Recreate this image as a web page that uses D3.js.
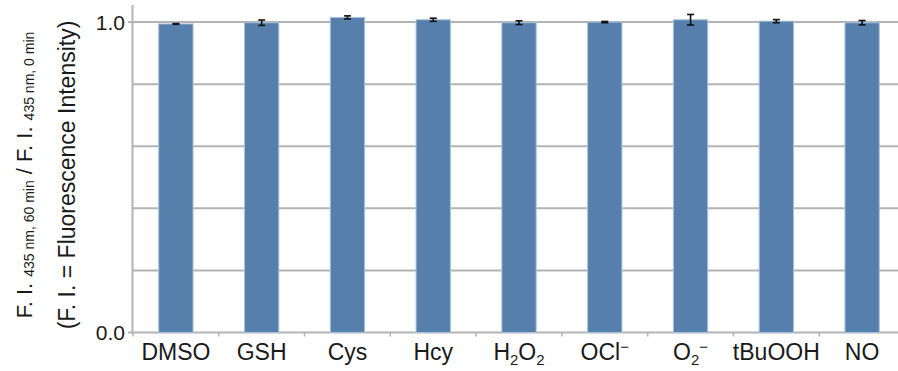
<!DOCTYPE html>
<html><head><meta charset="utf-8">
<script src="https://cdn.jsdelivr.net/npm/d3@7"></script>
<style>
html,body{margin:0;padding:0;background:#fff;}
svg{display:block;font-family:"Liberation Sans",Arial,sans-serif;}
</style></head>
<body><svg id="c" width="898" height="371"></svg>
<script>
// categories use a mini markup: _x = subscript, ^x = superscript
const categories = ["DMSO","GSH","Cys","Hcy","H_2O_2","OCl^−","O_2^−","tBuOOH","NO"];
const values = [0.994, 0.998, 1.015, 1.0075, 0.998, 1.000, 1.0075, 1.003, 0.998];
const errors = [0.001, 0.0087, 0.005, 0.005, 0.006, 0.002, 0.017, 0.005, 0.007];
const yTickLabels = [0.0, 1.0];
const yGrid = [0.0, 0.2, 0.4, 0.6, 0.8, 1.0];

const svg = d3.select("#c");
const W = 898;
const x = d3.scaleBand().domain(categories).range([133, 905]).paddingInner(0.6).paddingOuter(0.3);
const y = d3.scaleLinear().domain([0, 1.055]).range([332.5, 5]);

// gridlines
svg.append("g").selectAll("line").data(yGrid).join("line")
  .attr("x1", 132).attr("x2", W)
  .attr("y1", d => y(d)).attr("y2", d => y(d))
  .attr("stroke", "#b3b3b3").attr("stroke-width", 2);

// y axis line
svg.append("line").attr("x1", 132.5).attr("x2", 132.5).attr("y1", y(1.055)).attr("y2", y(0) + 1)
  .attr("stroke", "#b3b3b3").attr("stroke-width", 2);
// y ticks
svg.append("g").selectAll("line").data(yTickLabels).join("line")
  .attr("x1", 128).attr("x2", 133).attr("y1", d => y(d)).attr("y2", d => y(d))
  .attr("stroke", "#b3b3b3").attr("stroke-width", 2);
svg.append("g").selectAll("text").data(yTickLabels).join("text")
  .attr("x", 125).attr("y", d => y(d)).attr("dy", "0.36em")
  .attr("text-anchor", "end").attr("font-size", 21).attr("fill", "#1a1a1a")
  .text(d => d.toFixed(1));

// x ticks at band boundaries
const step = x.step();
const bounds = d3.range(categories.length + 1).map(k => x.range()[0] + k * step);
svg.append("g").selectAll("line").data(bounds).join("line")
  .attr("x1", d => d).attr("x2", d => d).attr("y1", y(0)).attr("y2", y(0) + 4)
  .attr("stroke", "#b3b3b3").attr("stroke-width", 1.5);

// bars
svg.append("g").selectAll("rect").data(categories).join("rect")
  .attr("x", d => x(d)).attr("width", x.bandwidth())
  .attr("y", (d, i) => y(values[i])).attr("height", (d, i) => y(0) - y(values[i]))
  .attr("fill", "#5680ab").attr("stroke", "#a7c2df").attr("stroke-width", 1);

// error bars
const eb = svg.append("g").attr("stroke", "#111").attr("stroke-width", 1.6);
categories.forEach((c, i) => {
  const cx = x(c) + x.bandwidth() / 2;
  const y1 = y(values[i] + errors[i]), y2 = y(values[i] - errors[i]);
  eb.append("line").attr("x1", cx).attr("x2", cx).attr("y1", y1).attr("y2", y2);
  eb.append("line").attr("x1", cx - 3.5).attr("x2", cx + 3.5).attr("y1", y1).attr("y2", y1);
  eb.append("line").attr("x1", cx - 3.5).attr("x2", cx + 3.5).attr("y1", y2).attr("y2", y2);
});

// category labels
function parseLabel(s) {
  const parts = [];
  let i = 0;
  while (i < s.length) {
    if (s[i] === "_" ) { parts.push({t: s[i+1], k: "sub"}); i += 2; }
    else if (s[i] === "^") { parts.push({t: s[i+1], k: "sup"}); i += 2; }
    else { let j = i; while (j < s.length && s[j] !== "_" && s[j] !== "^") j++; parts.push({t: s.slice(i, j), k: "n"}); i = j; }
  }
  return parts;
}
categories.forEach(c => {
  const t = svg.append("text").attr("x", x(c) + x.bandwidth() / 2).attr("y", 360)
    .attr("text-anchor", "middle").attr("font-size", 23).attr("fill", "#1a1a1a");
  let shift = 0;
  parseLabel(c).forEach(p => {
    const target = p.k === "sub" ? 5 : p.k === "sup" ? -8 : 0;
    t.append("tspan").attr("dy", target - shift).attr("font-size", p.k === "n" ? 23 : 15).text(p.t);
    shift = target;
  });
});

// y label
const yl1 = svg.append("text").attr("transform", "translate(32,175) rotate(-90)")
  .attr("text-anchor", "middle").attr("font-size", 22).attr("fill", "#1a1a1a");
const l1 = [["F. I. ", "n"], ["435 nm, 60 min", "sub"], [" / F. I. ", "n"], ["435 nm, 0 min", "sub"]];
let sh = 0;
l1.forEach(([txt, k]) => {
  const target = k === "sub" ? 2 : 0;
  yl1.append("tspan").attr("dy", target - sh).attr("font-size", k === "sub" ? 14 : 22)
    .attr("xml:space", "preserve").text(txt);
  sh = target;
});
svg.append("text").attr("transform", "translate(75,175) rotate(-90)")
  .attr("text-anchor", "middle").attr("font-size", 23).attr("fill", "#1a1a1a")
  .text("(F. I. = Fluorescence Intensity)");
</script></body></html>
